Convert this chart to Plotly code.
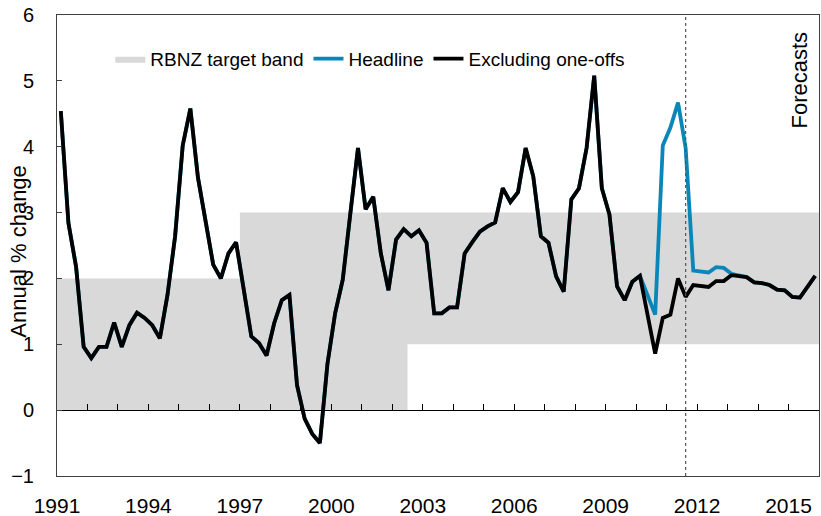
import plotly.graph_objects as go

# quarterly, 1991Q1 .. 2015Q4 (annual % change)
first_year = 1991
excluding = [
    4.54, 2.84, 2.18, 0.96, 0.79, 0.96, 0.96, 1.33, 0.96, 1.29,
    1.48, 1.40, 1.29, 1.09, 1.75, 2.64, 4.02, 4.58, 3.53, 2.87,
    2.21, 2.00, 2.38, 2.55, 1.83, 1.12, 1.02, 0.83, 1.32, 1.67,
    1.75, 0.38, -0.13, -0.36, -0.50, 0.71, 1.47, 1.98, 2.99, 3.98,
    3.05, 3.24, 2.38, 1.82, 2.59, 2.75, 2.64, 2.73, 2.54, 1.47,
    1.47, 1.56, 1.56, 2.38, 2.55, 2.71, 2.79, 2.85, 3.37, 3.16,
    3.31, 3.98, 3.55, 2.64, 2.54, 2.03, 1.80, 3.20, 3.37, 3.98,
    5.08, 3.37, 2.97, 1.88, 1.67, 1.95, 2.04, 1.47, 0.86, 1.40,
    1.45, 2.00, 1.72, 1.90, 1.89, 1.87, 1.96, 1.96, 2.05, 2.04,
    2.02, 1.94, 1.93, 1.90, 1.83, 1.82, 1.72, 1.71, 1.87, 2.04,
]
headline = [
    4.54, 2.84, 2.18, 0.96, 0.79, 0.96, 0.96, 1.33, 0.96, 1.29,
    1.48, 1.40, 1.29, 1.09, 1.75, 2.64, 4.02, 4.58, 3.53, 2.87,
    2.21, 2.00, 2.38, 2.55, 1.83, 1.12, 1.02, 0.83, 1.32, 1.67,
    1.75, 0.38, -0.13, -0.36, -0.50, 0.71, 1.47, 1.98, 2.99, 3.98,
    3.05, 3.24, 2.38, 1.82, 2.59, 2.75, 2.64, 2.73, 2.54, 1.47,
    1.47, 1.56, 1.56, 2.38, 2.55, 2.71, 2.79, 2.85, 3.37, 3.16,
    3.31, 3.98, 3.55, 2.64, 2.54, 2.03, 1.80, 3.20, 3.37, 3.98,
    5.08, 3.37, 2.97, 1.88, 1.67, 1.95, 2.04, 1.75, 1.45, 4.02,
    4.29, 4.67, 3.98, 2.12, 2.11, 2.09, 2.17, 2.16, 2.07, 2.04,
    2.02, 1.94, 1.93, 1.90, 1.83, 1.82, 1.72, 1.71, 1.87, 2.04,
]
quarters = [first_year + (i + 0.5) / 4 for i in range(len(excluding))]

# RBNZ target band (step changes)
band_x = [1991, 1997, 2002.5, 2016]
band_lo = [0, 0, 1, 1]
band_hi = [2, 3, 3, 3]

forecast_start = 2011.625
year_labels = list(range(1991, 2016, 3))

font = "Arial, Liberation Sans, sans-serif"
blue = "#0a86b8"
y_min, y_max = -1, 6

fig = go.Figure()

fig.add_trace(go.Scatter(
    x=band_x, y=band_lo, mode='lines', line=dict(width=0, shape='hv'),
    showlegend=False, hoverinfo='skip'
))
fig.add_trace(go.Scatter(
    x=band_x, y=band_hi, mode='lines', line=dict(width=0, shape='hv'),
    fill='tonexty', fillcolor='#d9d9d9', name='RBNZ target band'
))
fig.add_trace(go.Scatter(
    x=quarters, y=headline, mode='lines', name='Headline',
    line=dict(color=blue, width=3.8)
))
fig.add_trace(go.Scatter(
    x=quarters, y=excluding, mode='lines', name='Excluding one-offs',
    line=dict(color='black', width=3.8)
))
# carrier trace for the labelled bottom axis
fig.add_trace(go.Scatter(x=[first_year], y=[None], xaxis='x2',
                         showlegend=False, hoverinfo='skip'))

fig.add_vline(x=forecast_start, line=dict(color='#555555', width=1.2, dash='3px,3px'))

fig.add_annotation(text='Forecasts', textangle=-90, xref='paper', yref='paper',
                   x=0.975, y=0.86, xanchor='center', yanchor='middle', showarrow=False,
                   font=dict(family=font, size=22, color='black'))
fig.add_annotation(text='Annual % change', textangle=-90, xref='paper', yref='paper',
                   x=-0.051, y=0.487, xanchor='center', yanchor='middle', showarrow=False,
                   font=dict(family=font, size=22, color='black'))

fig.update_layout(
    width=821, height=516,
    margin=dict(l=57, r=2, t=15, b=40),
    plot_bgcolor='white', paper_bgcolor='white',
    font=dict(family=font, color='black'),
    showlegend=True,
    legend=dict(orientation='h', traceorder='normal', x=0.07, y=0.905,
                xanchor='left', yanchor='middle',
                font=dict(family=font, size=19), bgcolor='rgba(0,0,0,0)'),
    xaxis=dict(range=[1991, 2016], anchor='free',
               position=(0 - y_min) / (y_max - y_min),
               tick0=1991, dtick=1, ticks='inside', ticklen=6, tickcolor='black',
               showticklabels=False, showline=True, linecolor='black', linewidth=1,
               showgrid=False, zeroline=False, automargin=False),
    xaxis2=dict(range=[1991, 2016], overlaying='x', anchor='y', side='bottom',
                tickvals=year_labels, ticks='', showline=True, mirror=True,
                linecolor='#404040', linewidth=1, showgrid=False, zeroline=False,
                tickfont=dict(family=font, size=21), ticklabelstandoff=11,
                automargin=False),
    yaxis=dict(range=[y_min, y_max], dtick=1, ticks='inside', ticklen=5,
               tickcolor='#404040', showline=True, mirror=True, linecolor='#404040',
               linewidth=1, showgrid=False, zeroline=False,
               tickfont=dict(family=font, size=20), ticklabelstandoff=18,
               automargin=False),
)

# page body has a default 8px margin; drop it so the figure fills the window
fig.write_html("out.html", config={'displayModeBar': False},
               post_script="document.body.style.margin='0';")
